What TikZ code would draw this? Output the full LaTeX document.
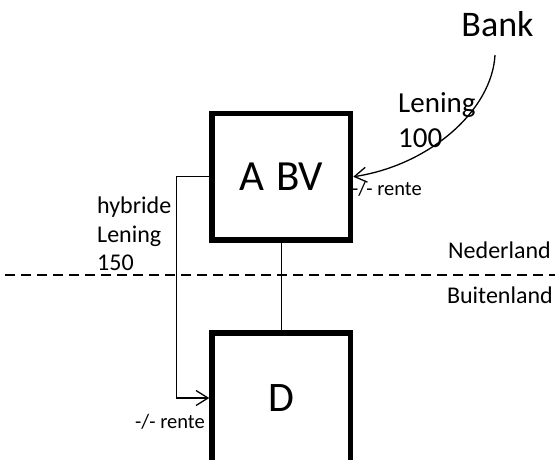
\documentclass[tikz,border=0pt]{standalone}
\usepackage{fontspec}
\setmainfont{Carlito}
\usetikzlibrary{arrows.meta}
\begin{document}
\begin{tikzpicture}[x=1pt,y=-1pt,
  box/.style={draw=black,line width=5.5pt,minimum width=138.5pt,inner sep=0pt},
  lbl/.style={inner sep=0pt,anchor=base west},
  conn/.style={line width=1.3pt,-{Straight Barb[length=12pt,width=15pt,line width=1.3pt]}},
  plain/.style={line width=1.3pt},
  border/.style={line width=2pt,dash pattern=on 10pt off 6pt}]
\useasboundingbox[fill=white] (0,0) rectangle (557,459);
\node[box,minimum height=126.5pt,font=\fontsize{43}{50}\selectfont] (A) at (281.25,176.75) {A\hspace{12pt}BV};
\node[box,minimum height=130pt,font=\fontsize{42}{50}\selectfont] (D) at (281.25,398) {D};
\node[inner sep=0pt,anchor=base,font=\fontsize{36}{42}\selectfont] (bank) at (497.5,36) {Bank};
\coordinate (bstart) at (495,55);
\draw[plain] (A.south) -- (D.north);
\draw[conn] (A.west) -- ++(-33,0) |- (D.west);
\draw[conn] (bstart) .. controls (492,110) and (430,165) .. (A.east);
\draw[border] (5,275) -- (555,275);
\node[lbl,font=\fontsize{29}{34}\selectfont] (len1) at (398,112) {Lening};
\node[lbl,font=\fontsize{29}{34}\selectfont] (len2) at (398,147) {100};
\node[lbl,font=\fontsize{20.5}{24}\selectfont] (rente1) at (352,195) {-/- rente};
\node[lbl,font=\fontsize{24}{28}\selectfont] (hyb1) at (97,213) {hybride};
\node[lbl,font=\fontsize{24}{28}\selectfont] (hyb2) at (97,242) {Lening};
\node[lbl,font=\fontsize{24}{28}\selectfont] (hyb3) at (97,270) {150};
\node[inner sep=0pt,anchor=base east,font=\fontsize{24}{28}\selectfont] (nl) at (551,258) {Nederland};
\node[inner sep=0pt,anchor=base east,font=\fontsize{24}{28}\selectfont] (bl) at (553,303) {Buitenland};
\node[lbl,font=\fontsize{20.5}{24}\selectfont] (rente2) at (135,428) {-/- rente};
\end{tikzpicture}
\end{document}
